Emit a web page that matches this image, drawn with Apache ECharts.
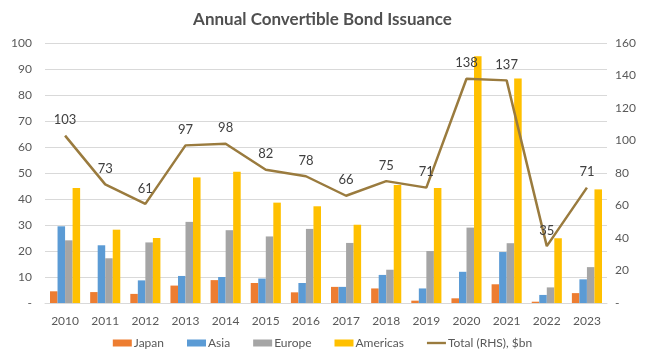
<!DOCTYPE html>
<html><head><meta charset="utf-8">
<script src="https://cdn.jsdelivr.net/npm/echarts@6/dist/echarts.min.js"></script>
<style>html,body{margin:0;padding:0;background:#fff}#c{width:645px;height:356px}</style>
</head><body><div id="c"></div>
<script>
const years = ['2010','2011','2012','2013','2014','2015','2016','2017','2018','2019','2020','2021','2022','2023'];
const japan    = [4.5, 4.2, 3.5, 6.7, 8.8, 7.7, 4.1, 6.2, 5.6, 0.9, 1.8, 7.2, 0.5, 3.8];
const asia     = [29.5, 22.2, 8.7, 10.4, 10.0, 9.4, 7.7, 6.2, 10.8, 5.6, 12.0, 19.6, 3.1, 9.1];
const europe   = [24.1, 17.2, 23.3, 31.2, 28.0, 25.6, 28.5, 23.1, 12.8, 20.0, 29.0, 23.0, 6.0, 13.8];
const americas = [44.2, 28.2, 25.0, 48.3, 50.5, 38.6, 37.2, 30.1, 45.4, 44.2, 94.9, 86.3, 24.9, 43.7];
const total    = [103, 73, 61, 97, 98, 82, 78, 66, 75, 71, 138, 137, 35, 71];
const seriesNames = ['Japan','Asia','Europe','Americas','Total (RHS), $bn'];

const FONT = 'Lato';
const TXT = '#595959';
const chart = echarts.init(document.getElementById('c'), null, {renderer:'canvas'});
const barSeries = (name, data, color) => ({
  name, type:'bar', data, yAxisIndex:0, barGap:'0%', barCategoryGap:'25%',
  itemStyle:{color}
});
chart.setOption({
  animation:false,
  textStyle:{fontFamily:FONT},
  title:{text:'Annual Convertible Bond Issuance', left:'center', top:6,
    textStyle:{fontFamily:FONT, fontSize:17, fontWeight:'bold', color:'#505050'}},
  grid:{left:45, right:38, top:43, bottom:53},
  legend:{bottom:2, left:'center', itemWidth:19, itemHeight:7, itemGap:23,
    textStyle:{fontFamily:FONT, fontSize:12, color:TXT, padding:[0,0,0,-3]},
    data:[
      {name:seriesNames[0], icon:'rect'},
      {name:seriesNames[1], icon:'rect'},
      {name:seriesNames[2], icon:'rect'},
      {name:seriesNames[3], icon:'rect'},
      {name:seriesNames[4], icon:'path://M0,0H40V5H0Z'}
    ]},
  xAxis:{type:'category', data:years,
    axisLine:{show:true, lineStyle:{color:'#D9D9D9'}}, axisTick:{show:false},
    axisLabel:{fontFamily:FONT, fontSize:12, color:TXT, margin:12}},
  yAxis:[
    {type:'value', min:0, max:100, interval:10,
      axisLabel:{fontFamily:FONT, fontSize:12, color:TXT, margin:13,
        formatter:v => v === 0 ? '-' : String(v)},
      splitLine:{lineStyle:{color:'#D9D9D9'}}, axisLine:{show:false}, axisTick:{show:false}},
    {type:'value', min:0, max:160, interval:20,
      axisLabel:{fontFamily:FONT, fontSize:12, color:TXT, margin:8,
        formatter:v => v === 0 ? '-' : String(v)},
      splitLine:{show:false}, axisLine:{show:false}, axisTick:{show:false}}
  ],
  series:[
    barSeries(seriesNames[0], japan, '#ED7D31'),
    barSeries(seriesNames[1], asia, '#5B9BD5'),
    barSeries(seriesNames[2], europe, '#A5A5A5'),
    barSeries(seriesNames[3], americas, '#FFC000'),
    {name:seriesNames[4], type:'line', yAxisIndex:1, data:total,
      symbol:'circle', symbolSize:0, showSymbol:true, z:5,
      lineStyle:{color:'#9A7B3E', width:2.5}, itemStyle:{color:'#9A7B3E'},
      label:{show:true, position:'top', distance:9, fontFamily:FONT, fontSize:13, color:'#404040'}}
  ]
});
</script></body></html>
